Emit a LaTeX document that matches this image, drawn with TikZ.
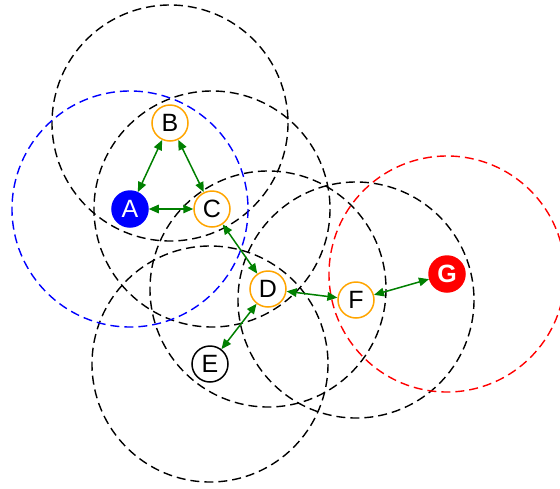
\documentclass[tikz,border=0pt]{standalone}
\usepackage{fontspec}
\setmainfont{Liberation Sans}
\usetikzlibrary{arrows.meta}
\definecolor{peerorange}{RGB}{255,165,0}
\definecolor{linkgreen}{RGB}{0,128,0}
\begin{document}
\begin{tikzpicture}[x=1pt,y=-1pt,
  peernode/.style={circle,draw=peerorange,fill=white,line width=1.5pt,
               minimum size=36pt,inner sep=0pt,
               font=\fontsize{25}{25}\selectfont},
  idlenode/.style={peernode,draw=black},
  srcnode/.style={peernode,draw=blue,fill=blue,text=white},
  dstnode/.style={peernode,draw=red,fill=red,text=white,font=\fontsize{25}{25}\selectfont\bfseries},
  reachring/.style={line width=1.4pt,dash pattern=on 9pt off 5pt},
  linkarrow/.style={linkgreen,line width=1.5pt,{Triangle[length=10pt,width=8.5pt]}-{Triangle[length=10pt,width=8.5pt]}}
]
  \useasboundingbox (0,0) rectangle (560,488);
  % positions
  \coordinate (pA) at (130,209);
  \coordinate (pB) at (170,123);
  \coordinate (pC) at (212,209);
  \coordinate (pD) at (268,289);
  \coordinate (pE) at (210,364);
  \coordinate (pF) at (356,300);
  \coordinate (pG) at (447,274);
  % ranges
  \foreach \p in {pB,pC,pD,pE,pF}
    \draw[reachring,black] (\p) circle[radius=118];
  \draw[reachring,blue] (pA) circle[radius=118];
  \draw[reachring,red] (pG) circle[radius=118];
  % nodes
  \node[srcnode]  (A) at (pA) {A};
  \node[peernode] (B) at (pB) {B};
  \node[peernode] (C) at (pC) {C};
  \node[peernode] (D) at (pD) {D};
  \node[idlenode] (E) at (pE) {E};
  \node[peernode] (F) at (pF) {F};
  \node[dstnode]  (G) at (pG) {G};
  % links
  \draw[linkarrow] (A) -- (B);
  \draw[linkarrow] (B) -- (C);
  \draw[linkarrow] (A) -- (C);
  \draw[linkarrow] (C) -- (D);
  \draw[linkarrow] (D) -- (E);
  \draw[linkarrow] (D) -- (F);
  \draw[linkarrow] (F) -- (G);
\end{tikzpicture}
\end{document}
